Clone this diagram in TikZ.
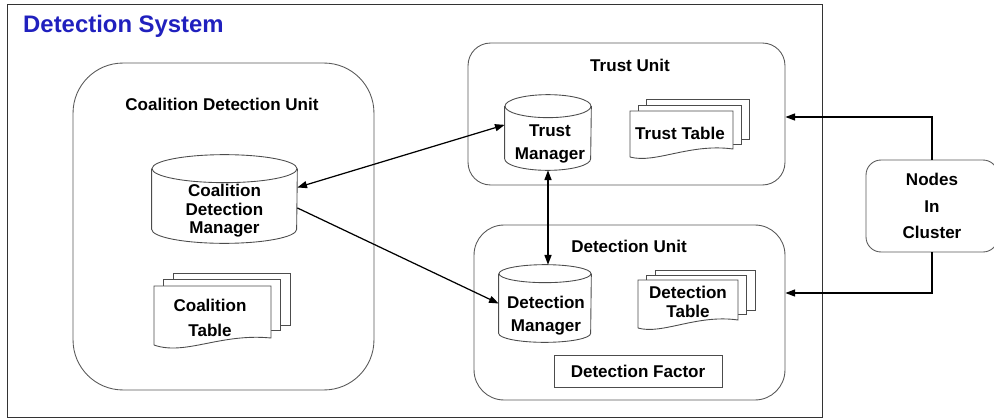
\documentclass[tikz,border=0pt]{standalone}
\usepackage{fontspec}
\setmainfont{Liberation Sans}
\usetikzlibrary{arrows.meta}
\definecolor{sysblue}{RGB}{32,32,190}

\begin{document}
\begin{tikzpicture}[x=0.02cm, y=-0.02cm,
    every node/.style={font=\fontsize{9.7}{11.6}\selectfont\bfseries, align=center},
    unit/.style={draw=black!65, line width=0.5pt},
    store/.style={inner sep=0pt},
    rim/.style={draw=black!70, line width=0.5pt},
    page/.style={draw=black!70, fill=white, line width=0.5pt},
    link/.style={line width=0.7pt, >={Triangle[length=5.5pt,width=4pt]}}]
        \useasboundingbox (0,0) rectangle (994,419);

        % frame
        \node[draw=black!80, line width=0.6pt, minimum width=16.32cm, minimum height=8.28cm] (sys) at (415,211) {};
        \node[font=\fontsize{13.6}{16}\selectfont\bfseries, text=sysblue] (sys-t) at (123.5,26) {Detection System};

        % units
        \node[unit, rounded corners=1cm, minimum width=6.02cm, minimum height=6.54cm] (cdu) at (223.5,226.5) {};
        \node (cdu-t) at (222,104) {Coalition Detection Unit};
        \node[unit, rounded corners=0.45cm, minimum width=6.34cm, minimum height=2.84cm] (tu) at (626.5,114) {};
        \node (tu-t) at (630,65) {Trust Unit};
        \node[unit, rounded corners=0.6cm, minimum width=6.22cm, minimum height=3.5cm] (du) at (629.5,312.5) {};
        \node (du-t) at (629,246) {Detection Unit};
        \node[unit, rounded corners=0.3cm, minimum width=2.64cm, minimum height=1.84cm] (nic) at (932,206) {Nodes\\[3.7pt]In\\[3.7pt]Cluster};

        % managers
        \node[store, minimum width=2.9cm, minimum height=1.76cm] (cdm) at (224.5,199) {};
        \draw[rim] ([yshift=-0.28cm]cdm.north west) -- ([yshift=0.28cm]cdm.south west)
            arc[start angle=180, end angle=360, x radius=1.45cm, y radius=0.28cm] -- ([yshift=-0.28cm]cdm.north east);
        \draw[rim] ([yshift=-0.28cm]cdm.north) ellipse [x radius=1.45cm, y radius=0.28cm];
        \node (cdm-t) at (224.5,211) {Coalition\\[-1pt]Detection\\[-1pt]Manager};

        \node[store, minimum width=1.72cm, minimum height=1.5cm] (tm) at (548,132.5) {};
        \draw[rim] ([yshift=-0.23cm]tm.north west) -- ([yshift=0.23cm]tm.south west)
            arc[start angle=180, end angle=360, x radius=0.86cm, y radius=0.23cm] -- ([yshift=-0.23cm]tm.north east);
        \draw[rim] ([yshift=-0.23cm]tm.north) ellipse [x radius=0.86cm, y radius=0.23cm];
        \node (tm-t) at (550,144) {Trust\\[1pt]Manager};

        \node[store, minimum width=1.84cm, minimum height=1.54cm] (dm) at (545,303.5) {};
        \draw[rim] ([yshift=-0.18cm]dm.north west) -- ([yshift=0.18cm]dm.south west)
            arc[start angle=180, end angle=360, x radius=0.92cm, y radius=0.18cm] -- ([yshift=-0.18cm]dm.north east);
        \draw[rim] ([yshift=-0.18cm]dm.north) ellipse [x radius=0.92cm, y radius=0.18cm];
        \node (dm-t) at (546,316) {Detection\\[1.4pt]Manager};

        % tables
        \draw[page] (173,273) rectangle (290,325);
        \draw[page] (163,279) rectangle (280,330);
        \draw[page] (154,345) -- (154,286) -- (271,286) -- (271,338) .. controls (220,333) and (185,356) .. (154,345);
        \node (ctab) at (210,318) {Coalition\\[2.6pt]Table};

        \draw[page] (646,99) rectangle (749,139);
        \draw[page] (638,105) rectangle (741,144);
        \draw[page] (630,157) -- (630,111) -- (733,111) -- (733,149) .. controls (690,143) and (655,164) .. (630,157);
        \node (ttab) at (680,133) {Trust Table};

        \draw[page] (655,270) rectangle (755,310);
        \draw[page] (646,275) rectangle (746,314);
        \draw[page] (638,328) -- (638,280) -- (738,280) -- (738,320) .. controls (697,314) and (662,335) .. (638,328);
        \node (dtab) at (688,302) {Detection\\[-1pt]Table};

        \node[draw=black!70, line width=0.5pt, minimum width=3.36cm, minimum height=0.64cm] (df) at (638,371) {Detection Factor};

        % links
        \draw[link, <->] (cdm.9) -- (tm.170);
        \draw[link, ->] (cdm.-7) -- (dm.west);
        \draw[link, <->] (tm.south) -- (tm.south |- dm.north);
        \draw[link, ->] (nic.north) |- ([yshift=-0.06cm]tu.east);
        \draw[link, ->] (nic.south) |- ([yshift=0.39cm]du.east);
\end{tikzpicture}
\end{document}
